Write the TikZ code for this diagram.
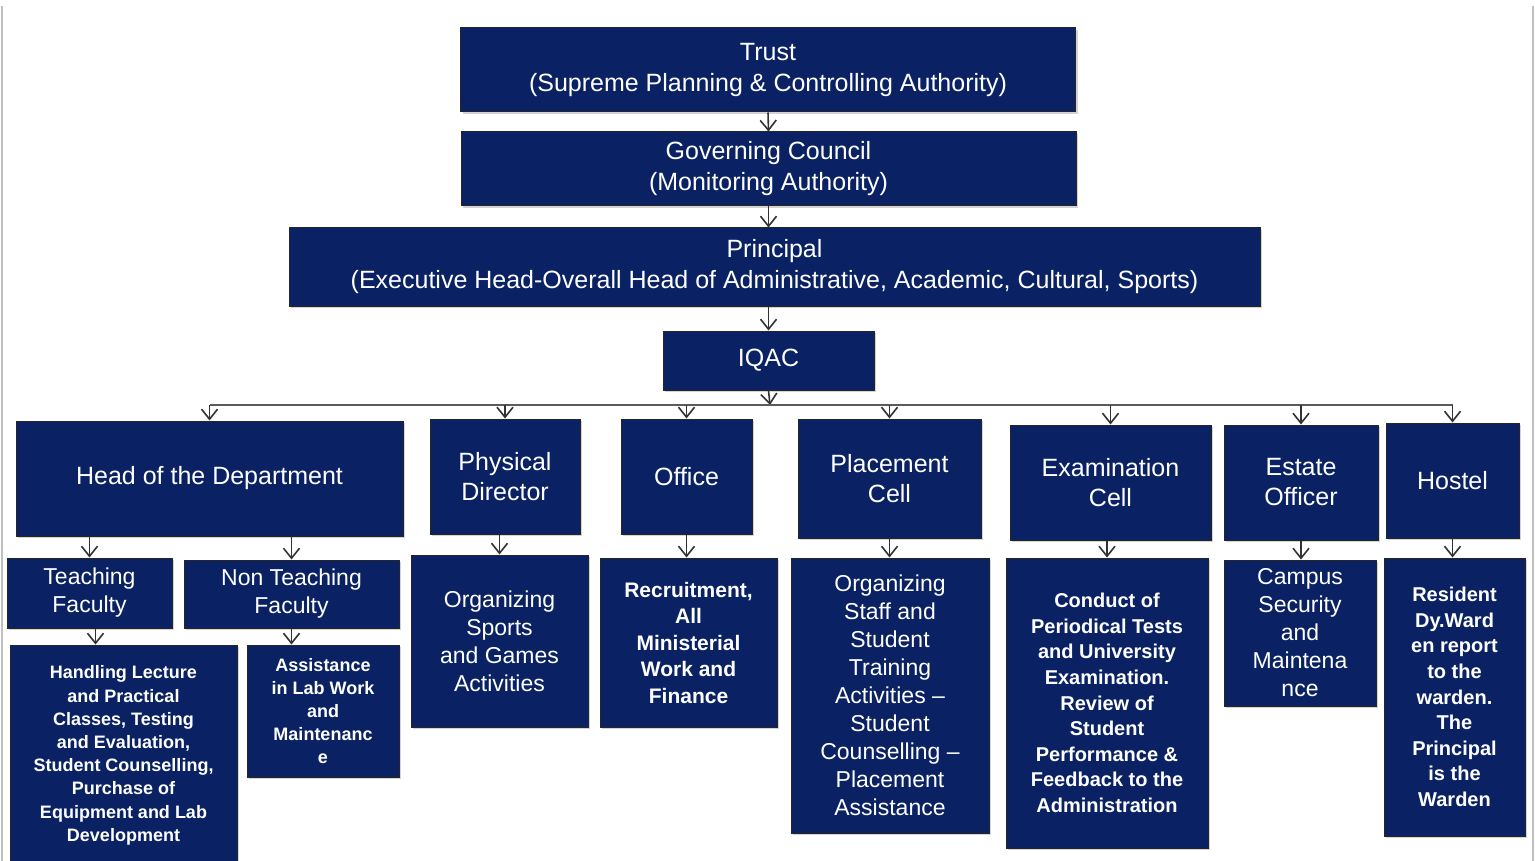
\documentclass[tikz,border=0pt]{standalone}
\usepackage{fontspec}
\setmainfont{Liberation Sans}
\usetikzlibrary{arrows.meta,shadows}
\definecolor{navyblue}{RGB}{10,34,100}
\definecolor{linegray}{RGB}{50,50,50}

\begin{document}
\begin{tikzpicture}[x=0.5pt, y=-0.5pt,
        box/.style={rectangle, draw=black!85, fill=navyblue, text=white, align=center, inner sep=0pt, line width=0.5pt,
            drop shadow={shadow xshift=1pt, shadow yshift=-1pt, opacity=0.35}},
        arr/.style={draw=linegray, line width=0.8pt, -{Straight Barb[length=5pt,width=8pt]}},
        busline/.style={draw=linegray!80, line width=1pt},
        ftop/.style={font=\fontsize{12.5}{15.5}\selectfont},
        fmid/.style={font=\fontsize{12.5}{15}\selectfont},
        fsub/.style={font=\fontsize{11.5}{14}\selectfont},
        fsmall/.style={font=\fontsize{10}{12.8}\selectfont\bfseries},
        ftiny/.style={font=\fontsize{9}{11.6}\selectfont\bfseries}]
                \useasboundingbox (0,0) rectangle (1535,861);
                \draw[gray!50, line width=1pt] (1.5,6) -- (1.5,861);
                \draw[gray!50, line width=1pt] (1533,6) -- (1533,861);

                % top of the chart
                \node [box, ftop, minimum width=307.5pt, minimum height=42pt] (trust) at (768,70) {Trust\\(Supreme Planning \& Controlling Authority)};
                \node [box, ftop, minimum width=307.5pt, minimum height=37pt] (council) at (768.5,169) {Governing Council\\(Monitoring Authority)};
                \node [box, ftop, minimum width=485.5pt, minimum height=39pt] (principal) at (774.5,267) {Principal\\(Executive Head-Overall Head of Administrative, Academic, Cultural, Sports)};
                \node [box, ftop, minimum width=105.5pt, minimum height=29.5pt] (iqac) at (768.5,360.5) {IQAC};
                \coordinate (bus) at (770,405);

                % second row
                \node [box, fmid, minimum width=193.5pt, minimum height=57.5pt] (hod) at (209.5,478.5) {Head of the Department};
                \node [box, fmid, minimum width=75pt, minimum height=57.5pt] (phys) at (505,476.5) {Physical\\Director};
                \node [box, fmid, minimum width=65.5pt, minimum height=57.5pt] (office) at (686.5,476.5) {Office};
                \node [box, fmid, minimum width=91.5pt, minimum height=59.5pt] (placement) at (889.5,478.5) {Placement\\Cell};
                \node [box, fmid, minimum width=100.5pt, minimum height=57.5pt] (exam) at (1110.5,482.5) {Examination\\Cell};
                \node [box, fmid, minimum width=77pt, minimum height=57.5pt] (estate) at (1301,482.5) {Estate\\Officer};
                \node [box, fmid, minimum width=66.5pt, minimum height=57.5pt] (hostel) at (1452.5,480.5) {Hostel};

                % third row
                \node [box, fsub, minimum width=82.5pt, minimum height=35pt] (teach) at (89.5,593) {Teaching\\Faculty};
                \node [box, fsub, minimum width=107.5pt, minimum height=34pt] (nonteach) at (291.5,594) {Non Teaching\\Faculty};
                \node [box, fsub, minimum width=88.5pt, minimum height=86pt] (sports) at (499.5,641) {Organizing\\Sports\\and Games\\Activities};
                \node [box, fsmall, font=\fontsize{10.5}{13.25}\selectfont\bfseries, minimum width=88.5pt, minimum height=84.5pt] (recruit) at (688.5,642.5) {Recruitment,\\All\\Ministerial\\Work and\\Finance};
                \node [box, fsub, minimum width=99pt, minimum height=137.5pt] (training) at (890,695.5) {Organizing\\Staff and\\Student\\Training\\Activities –\\Student\\Counselling –\\Placement\\Assistance};
                \node [box, fsmall, minimum width=101pt, minimum height=145pt] (conduct) at (1107,703) {Conduct of\\Periodical Tests\\and University\\Examination.\\Review of\\Student\\Performance \&\\Feedback to the\\Administration};
                \node [box, fsub, minimum width=76pt, minimum height=73pt] (campus) at (1300,633) {Campus\\Security\\and\\Maintena\\nce};
                \node [box, fsmall, minimum width=70.5pt, minimum height=139pt] (resident) at (1454.5,697) {Resident\\Dy.Ward\\en report\\to the\\warden.\\The\\Principal\\is the\\Warden};

                % fourth row
                \node [box, ftiny, minimum width=113.5pt, minimum height=110.5pt] (handling) at (123.5,755.5) {Handling Lecture\\and Practical\\Classes, Testing\\and Evaluation,\\Student Counselling,\\Purchase of\\Equipment and Lab\\Development};
                \node [box, ftiny, minimum width=76pt, minimum height=66pt] (assist) at (323,711) {Assistance\\in Lab Work\\and\\Maintenanc\\e};

                % arrows
                \draw[arr] (trust.south) -- (council.north);
                \draw[arr] (council.south) -- (council.south |- principal.north);
                \draw[arr] (principal.south -| iqac) -- (iqac.north);
                \draw[arr] (iqac.south) -- (bus);
                \draw[busline] (bus -| hod) -- (bus -| hostel);
                \draw[arr] (bus -| hod) -- (hod.north);
                \draw[arr] (bus -| phys) -- (phys.north);
                \draw[arr] (bus -| office) -- (office.north);
                \draw[arr] (bus -| placement) -- (placement.north);
                \draw[arr] (bus -| exam) -- (exam.north);
                \draw[arr] (bus -| estate) -- (estate.north);
                \draw[arr] (bus -| hostel) -- (hostel.north);

                \draw[arr] (hod.south -| teach) -- (teach.north);
                \draw[arr] (hod.south -| nonteach) -- (nonteach.north);
                \draw[arr] (phys.south -| sports) -- (sports.north);
                \draw[arr] (office.south) -- (office.south |- recruit.north);
                \draw[arr] (placement.south) -- (placement.south |- training.north);
                \draw[arr] (exam.south -| conduct) -- (conduct.north);
                \draw[arr] (estate.south) -- (estate.south |- campus.north);
                \draw[arr] (hostel.south) -- (hostel.south |- resident.north);
                \draw[arr] ([xshift=3pt]teach.south) -- ([xshift=3pt]teach.south |- handling.north);
                \draw[arr] (nonteach.south) -- (nonteach.south |- assist.north);
            \end{tikzpicture}
\end{document}
